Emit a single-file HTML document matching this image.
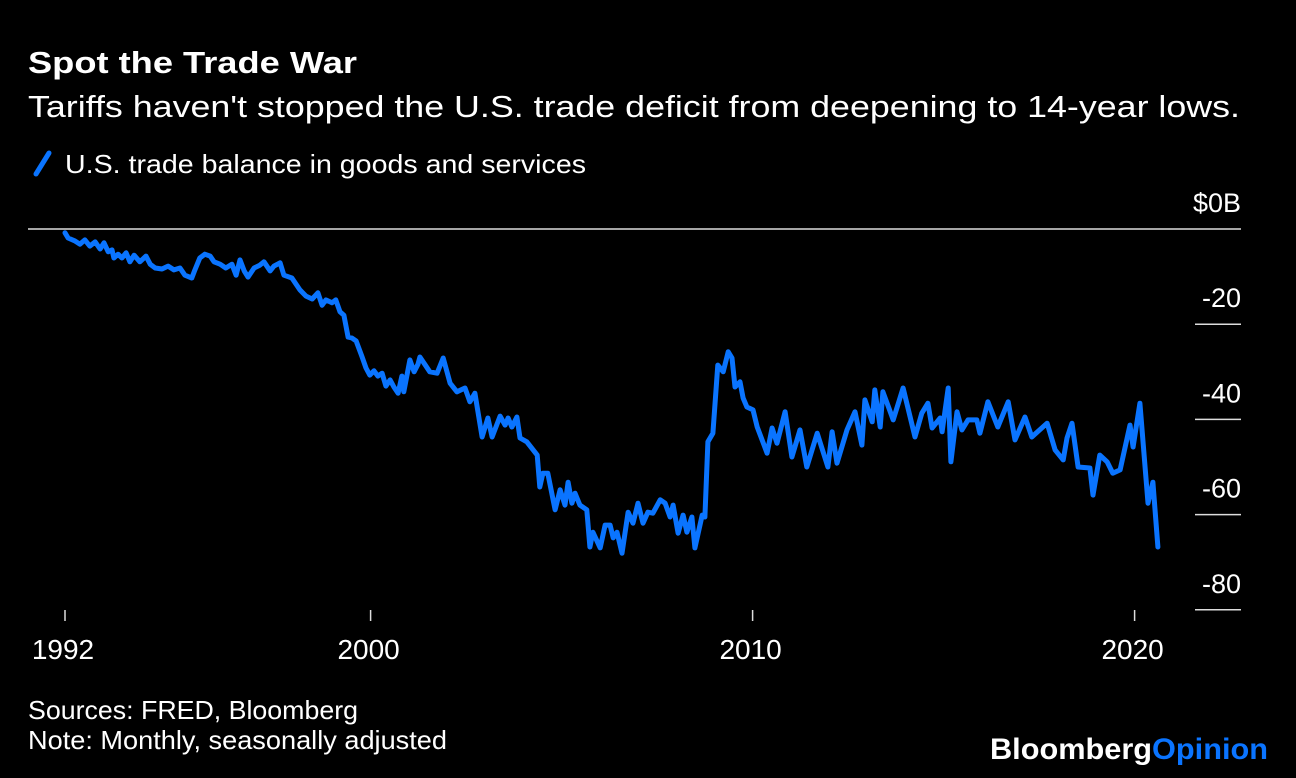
<!DOCTYPE html>
<html><head><meta charset="utf-8"><style>
body{margin:0;background:#000;}
svg{display:block;}
text{font-family:"Liberation Sans",sans-serif;fill:#fff;}
</style></head><body>
<svg width="1296" height="778" viewBox="0 0 1296 778">
<rect width="1296" height="778" fill="#000"/>
<text x="28" y="73" font-size="31" font-weight="bold" textLength="329" lengthAdjust="spacingAndGlyphs">Spot the Trade War</text>
<text x="28" y="117" font-size="31" textLength="1212" lengthAdjust="spacingAndGlyphs">Tariffs haven't stopped the U.S. trade deficit from deepening to 14-year lows.</text>
<g>
<line x1="36" y1="174" x2="49" y2="153" stroke="#0a74ff" stroke-width="5" stroke-linecap="round"/>
<text x="65" y="173" font-size="26" textLength="521" lengthAdjust="spacingAndGlyphs">U.S. trade balance in goods and services</text>
</g>
<g id="axes"></g>
<path id="series" fill="none" stroke="#0a74ff" stroke-width="5" stroke-linejoin="round" stroke-linecap="round"/>
<text x="28" y="719" font-size="26" textLength="330" lengthAdjust="spacingAndGlyphs">Sources: FRED, Bloomberg</text>
<text x="28" y="749" font-size="26" textLength="419" lengthAdjust="spacingAndGlyphs">Note: Monthly, seasonally adjusted</text>
<text x="990" y="759" font-size="30" font-weight="bold" textLength="278" lengthAdjust="spacingAndGlyphs">Bloomberg<tspan fill="#0a74ff">Opinion</tspan></text>
</svg>
<script>
const years=[1992.00,1992.08,1992.26,1992.39,1992.52,1992.65,1992.79,1992.92,1993.02,1993.13,1993.23,1993.28,1993.39,1993.49,1993.60,1993.70,1993.81,1993.96,1994.12,1994.23,1994.36,1994.54,1994.70,1994.85,1995.01,1995.14,1995.32,1995.40,1995.53,1995.66,1995.80,1995.90,1996.06,1996.21,1996.37,1996.48,1996.58,1996.69,1996.79,1996.95,1997.10,1997.21,1997.37,1997.47,1997.63,1997.73,1997.94,1998.15,1998.31,1998.47,1998.62,1998.73,1998.83,1998.99,1999.09,1999.20,1999.30,1999.41,1999.51,1999.62,1999.77,1999.88,1999.98,2000.09,2000.19,2000.30,2000.40,2000.51,2000.61,2000.72,2000.82,2000.87,2001.03,2001.14,2001.24,2001.29,2001.55,2001.74,2001.90,2002.08,2002.26,2002.47,2002.60,2002.73,2002.92,2003.07,2003.18,2003.39,2003.52,2003.60,2003.70,2003.83,2003.91,2004.09,2004.36,2004.43,2004.51,2004.64,2004.83,2004.96,2005.09,2005.17,2005.27,2005.35,2005.48,2005.66,2005.74,2005.82,2006.01,2006.14,2006.27,2006.35,2006.45,2006.58,2006.74,2006.87,2007.00,2007.13,2007.26,2007.39,2007.58,2007.71,2007.84,2007.92,2008.05,2008.18,2008.28,2008.41,2008.49,2008.68,2008.75,2008.83,2008.96,2009.09,2009.23,2009.36,2009.46,2009.54,2009.67,2009.75,2009.85,2010.01,2010.12,2010.38,2010.51,2010.64,2010.85,2011.03,2011.24,2011.42,2011.69,2011.97,2012.08,2012.21,2012.47,2012.68,2012.86,2012.94,2013.13,2013.20,2013.34,2013.41,2013.68,2013.94,2014.25,2014.43,2014.59,2014.70,2014.91,2014.96,2015.12,2015.19,2015.35,2015.48,2015.64,2015.87,2015.95,2016.16,2016.42,2016.69,2016.87,2017.13,2017.31,2017.71,2017.92,2018.13,2018.23,2018.36,2018.52,2018.83,2018.91,2019.09,2019.28,2019.43,2019.62,2019.88,2019.96,2020.14,2020.35,2020.48,2020.61];
const balance=[-0.8,-1.9,-2.5,-3.2,-2.3,-3.6,-2.7,-4.2,-2.9,-4.8,-4.4,-6.1,-5.3,-6.1,-5.0,-6.9,-5.5,-6.9,-5.7,-7.4,-8.2,-8.4,-7.8,-8.6,-8.2,-9.7,-10.3,-8.6,-6.1,-5.3,-5.7,-6.9,-7.4,-8.2,-7.4,-9.7,-6.5,-8.8,-10.1,-8.2,-7.6,-6.9,-8.8,-7.8,-7.1,-9.7,-10.3,-12.8,-14.1,-14.7,-13.4,-16.0,-14.9,-15.5,-14.9,-17.4,-18.1,-22.7,-22.9,-23.5,-26.7,-29.2,-30.7,-29.8,-30.9,-30.3,-33.0,-31.7,-33.2,-34.5,-30.9,-34.2,-27.5,-30.0,-28.4,-26.9,-30.0,-30.3,-27.1,-32.4,-34.2,-33.4,-36.3,-34.5,-43.7,-39.7,-43.7,-39.3,-41.2,-39.7,-41.6,-39.5,-43.9,-44.7,-47.5,-54.2,-51.3,-51.3,-59.0,-54.8,-58.0,-53.2,-57.6,-55.5,-58.0,-59.0,-66.8,-63.7,-67.0,-62.2,-62.2,-64.9,-63.7,-68.1,-59.5,-61.8,-57.6,-61.8,-59.5,-59.7,-56.9,-57.6,-60.5,-58.0,-63.9,-60.1,-63.7,-60.5,-67.0,-60.1,-60.5,-44.7,-42.9,-28.6,-30.0,-25.8,-27.1,-33.2,-32.1,-35.5,-37.4,-38.0,-41.6,-47.1,-41.8,-45.0,-38.4,-47.9,-42.2,-50.0,-42.9,-50.0,-42.6,-49.2,-42.2,-38.4,-45.4,-35.9,-40.5,-33.8,-41.6,-34.2,-40.1,-33.4,-43.7,-38.7,-36.6,-41.8,-39.7,-42.6,-33.4,-48.9,-38.4,-42.2,-40.1,-40.1,-42.9,-36.3,-41.6,-36.3,-44.3,-39.5,-43.7,-40.8,-46.4,-48.5,-43.9,-40.8,-50.0,-50.2,-55.9,-47.5,-48.9,-51.3,-50.6,-41.2,-45.8,-36.6,-57.6,-53.2,-66.8];
const yTicks=[0,-20,-40,-60,-80];
const yTickLabels=["$0B","-20","-40","-60","-80"];
const xTicks=[1992,2000,2010,2020];
const xTickLabels=["1992","2000","2010","2020"];

const NS="http://www.w3.org/2000/svg";
function xs(yr){return 65+(yr-1992)*38.2;}
function ys(v){return 229-v*4.76;}
const axes=document.getElementById('axes');
function mk(tag,attrs,parent){const e=document.createElementNS(NS,tag);for(const k in attrs)e.setAttribute(k,attrs[k]);parent.appendChild(e);return e;}
yTicks.forEach((v,i)=>{
  const y=ys(v);
  const ln=mk('line',{x1:v===0?28:1195,x2:1241,y1:y,y2:y,stroke:'#ddd','stroke-width':1.5},axes);
  
  
  const t=mk('text',{x:1241,y:y-17,'font-size':27,'text-anchor':'end'},axes);
  t.textContent=yTickLabels[i];
  
  
});
xTicks.forEach((yr,i)=>{
  const x=xs(yr);
  const ln=mk('line',{x1:x,x2:x,y1:610,y2:621,stroke:'#ddd','stroke-width':1.5},axes);
  
  
  const t=mk('text',{x:x-2,y:659,'font-size':28,'text-anchor':'middle'},axes);
  t.textContent=xTickLabels[i];
  
  
});
let d='';
years.forEach((yr,i)=>{d+=(i?'L':'M')+xs(yr).toFixed(1)+','+ys(balance[i]).toFixed(1);});
document.getElementById('series').setAttribute('d',d);
</script>
</body></html>
